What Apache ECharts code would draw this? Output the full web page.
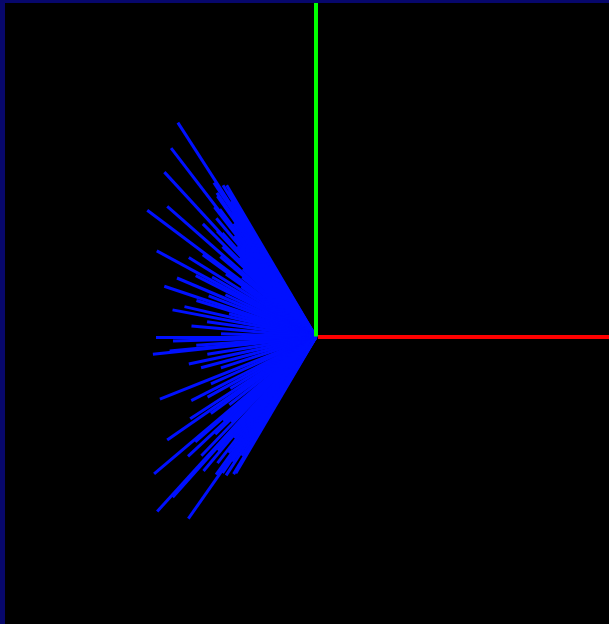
<!DOCTYPE html>
<html>
<head>
<meta charset="utf-8">
<style>
  html, body { margin: 0; padding: 0; background: #000; }
  #chart { width: 609px; height: 624px; }
</style>
<script src="https://cdn.jsdelivr.net/npm/echarts@6/dist/echarts.min.js"></script>
</head>
<body>
<div id="chart"></div>
<script>
// Rays of the fan: angle in degrees (0 = right, counter-clockwise) and length
const rayAngles = [
  120.5, 121, 121.5, 122, 122.8, 123, 123.5, 124, 124.5, 125, 126, 127, 127.5, 128, 129, 130,
  131, 132, 132.6, 133, 134, 135, 136, 137, 138.7, 140, 141, 143.1, 144, 145, 146, 148,
  150, 151.6, 153, 155, 157, 159, 161.5, 163, 165, 167, 169.3, 172, 175, 178, 180, 181.6,
  184, 185.5, 186, 189, 192, 195, 198, 201.7, 204, 207, 209, 211, 213, 214.7, 216, 218,
  220.2, 221, 222, 223, 224, 225, 226, 227.7, 228.2, 229, 230, 231, 232, 233, 234, 234.9,
  235.5, 236, 237, 238, 239, 239.5
];
const rayLengths = [
  176, 170, 178, 160, 255, 168, 185, 150, 175, 172, 140, 160, 238, 165, 130, 155,
  120, 140, 224, 145, 110, 160, 130, 100, 198, 125, 95, 211, 140, 110, 90, 150,
  120, 181, 135, 100, 151, 115, 160, 125, 90, 135, 146, 110, 125, 95, 160, 143,
  120, 147, 164, 110, 130, 119, 100, 168, 115, 140, 124, 100, 150, 181, 130, 110,
  212, 160, 125, 175, 140, 120, 165, 236, 215, 150, 175, 130, 160, 145, 170, 222,
  165, 150, 165, 140, 160, 158
];

// Axis markers from the origin
const greenAxisEnd = [0, 337];
const redAxisEnd = [293, 0];

const chart = echarts.init(document.getElementById('chart'));

const rays = rayAngles.map((a, i) => {
  const r = a * Math.PI / 180;
  return { coords: [[0, 0], [rayLengths[i] * Math.cos(r), rayLengths[i] * Math.sin(r)]] };
});

chart.setOption({
  backgroundColor: '#000000',
  animation: false,
  grid: { left: 0, right: 0, top: 0, bottom: 0 },
  xAxis: { type: 'value', min: -316, max: 293, show: false },
  yAxis: { type: 'value', min: -287, max: 337, show: false },
  graphic: [
    { type: 'rect', left: 0, top: 0, shape: { width: 609, height: 3 }, style: { fill: '#07076b' }, z: 100 },
    { type: 'rect', left: 0, top: 0, shape: { width: 5, height: 624 }, style: { fill: '#07076b' }, z: 100 }
  ],
  series: [
    {
      type: 'lines',
      coordinateSystem: 'cartesian2d',
      silent: true,
      lineStyle: { color: '#0010ff', width: 3, opacity: 1 },
      data: rays,
      z: 2
    },
    {
      type: 'lines',
      coordinateSystem: 'cartesian2d',
      silent: true,
      lineStyle: { width: 4, opacity: 1 },
      data: [
        { coords: [[0, 0.5], greenAxisEnd], lineStyle: { color: '#00ff00' } },
        { coords: [[2, 0], redAxisEnd], lineStyle: { color: '#ff0000' } }
      ],
      z: 3
    }
  ]
});
</script>
</body>
</html>
